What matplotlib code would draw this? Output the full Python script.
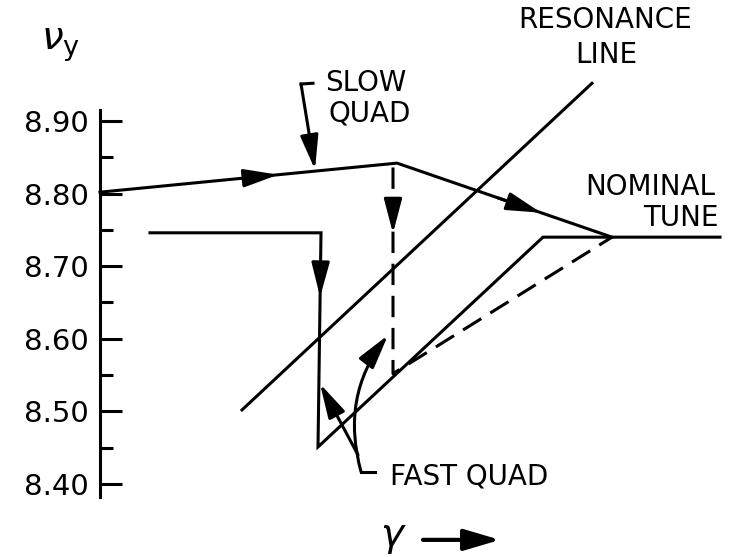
import matplotlib
matplotlib.use('Agg')
import matplotlib.pyplot as plt
import numpy as np

# tune path sketch (gamma in arbitrary units)
gamma_slow = [0.0, 2.97, 5.12]
nu_slow = [8.802, 8.842, 8.740]
gamma_fast = [0.50, 2.21, 2.18, 4.43, 6.20]
nu_fast = [8.746, 8.746, 8.451, 8.740, 8.740]
gamma_dash = [2.93, 2.93, 5.12]
nu_dash = [8.836, 8.552, 8.740]
gamma_res = [1.42, 4.92]
nu_res = [8.502, 8.952]
nu_ticks = [8.40, 8.50, 8.60, 8.70, 8.80, 8.90]
nu_labels = ['8.40', '8.50', '8.60', '8.70', '8.80', '8.90']
nu_minor = [8.45, 8.55, 8.65, 8.75, 8.85]

fig = plt.figure(figsize=(7.34, 5.57), dpi=100)
ax = fig.add_axes([0, 0, 1, 1])
ax.set_xlim(-1.0, 6.34)
ax.set_ylim(8.2994, 9.0667)
ax.patch.set_visible(False)

for s in ['top', 'right', 'bottom']:
    ax.spines[s].set_visible(False)
ax.spines['left'].set_position(('data', 0))
ax.spines['left'].set_bounds(8.382, 8.915)
ax.spines['left'].set_linewidth(2.2)
ax.set_xticks([])
ax.set_yticks(nu_ticks, nu_labels)
ax.set_yticks(nu_minor, minor=True)
ax.tick_params(axis='y', which='major', direction='in', length=16, width=2.2,
               labelsize=21, pad=8)
ax.tick_params(axis='y', which='minor', direction='in', length=9, width=2.2)

lw = 2.2
ax.plot(gamma_slow, nu_slow, color='k', lw=lw, solid_joinstyle='miter')
ax.plot(gamma_fast, nu_fast, color='k', lw=lw, solid_joinstyle='miter')
ax.plot(gamma_dash, nu_dash, color='k', lw=lw, linestyle=(0, (7, 3.5)))
ax.plot(gamma_res, nu_res, color='k', lw=lw)

head = '-|>,head_length=2.1,head_width=0.55'


def arrow_on(xs, ys, i, frac, back=0.12):
    # arrowhead sitting on segment i of a polyline
    x0, x1 = xs[i], xs[i + 1]
    y0, y1 = ys[i], ys[i + 1]
    tip = (x0 + frac * (x1 - x0), y0 + frac * (y1 - y0))
    tail = (x0 + (frac - back) * (x1 - x0), y0 + (frac - back) * (y1 - y0))
    ax.annotate('', xy=tip, xytext=tail,
                arrowprops=dict(arrowstyle=head, color='k', lw=lw,
                                shrinkA=0, shrinkB=0))


arrow_on(gamma_slow, nu_slow, 0, 0.60)
arrow_on(gamma_slow, nu_slow, 1, 0.67, back=0.2)
arrow_on(gamma_fast, nu_fast, 1, 0.30, back=0.15)
arrow_on(gamma_dash, nu_dash, 0, 0.32, back=0.15)

# SLOW QUAD pointer
ax.plot([2.13, 2.01], [8.952, 8.951], color='k', lw=lw)
ax.annotate('', xy=(2.15, 8.833), xytext=(2.01, 8.951),
            arrowprops=dict(arrowstyle=head, color='k', lw=lw,
                            shrinkA=0, shrinkB=0))
ax.text(2.25, 8.952, 'SLOW', fontsize=20, ha='left', va='center')
ax.text(2.28, 8.911, 'QUAD', fontsize=20, ha='left', va='center')

# FAST QUAD pointers
ax.plot([2.61, 2.75], [8.417, 8.417], color='k', lw=lw)
ax.annotate('', xy=(2.88, 8.605), xytext=(2.61, 8.417),
            arrowprops=dict(arrowstyle=head, color='k', lw=lw,
                            shrinkA=0, shrinkB=0,
                            connectionstyle='arc3,rad=-0.25'))
ax.annotate('', xy=(2.20, 8.538), xytext=(2.58, 8.440),
            arrowprops=dict(arrowstyle=head, color='k', lw=lw,
                            shrinkA=0, shrinkB=0))
ax.text(2.90, 8.410, 'FAST QUAD', fontsize=20, ha='left', va='center')

ax.text(5.05, 9.039, 'RESONANCE', fontsize=20, ha='center', va='center')
ax.text(5.06, 8.991, 'LINE', fontsize=20, ha='center', va='center')
ax.text(5.50, 8.809, 'NOMINAL', fontsize=20, ha='center', va='center')
ax.text(5.81, 8.766, 'TUNE', fontsize=20, ha='center', va='center')

ax.text(-0.40, 9.005, r'$\nu_{\rm y}$', fontsize=28, ha='center', va='center')
ax.text(2.93, 8.327, r'$\gamma$', fontsize=28, ha='center', va='center')
ax.annotate('', xy=(4.00, 8.323), xytext=(3.23, 8.323),
            arrowprops=dict(arrowstyle='-|>,head_length=2.2,head_width=0.65',
                            color='k', lw=3, shrinkA=0, shrinkB=0))

fig.savefig('out.png', dpi=100)
